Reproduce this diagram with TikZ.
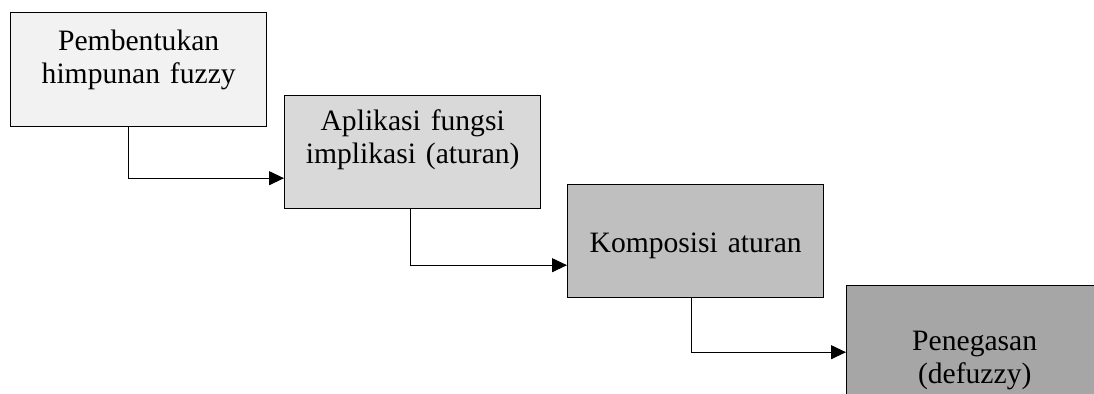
\documentclass[tikz,border=0pt]{standalone}
\usepackage{fontspec}
\setmainfont{Liberation Serif}
\usepackage{xcolor}
\usetikzlibrary{arrows.meta,positioning}
\definecolor{shadeA}{HTML}{F2F2F2}
\definecolor{shadeB}{HTML}{D9D9D9}
\definecolor{shadeC}{HTML}{BFBFBF}
\definecolor{shadeD}{HTML}{A6A6A6}
\begin{document}
\begin{tikzpicture}[stage/.style={draw,line width=0.7pt,text width=128pt,align=center,inner sep=0pt,anchor=north west,font=\fontsize{14.8}{16.5}\selectfont},
    flow/.style={-{Triangle[length=7.5pt,width=7pt]},line width=0.6pt}]
       \useasboundingbox (0pt,0pt) rectangle (547pt,-197pt);
       \node[stage,fill=shadeA,text height=19pt,text depth=38pt] (P) at (5pt,-6pt) {Pembentukan\\himpunan fuzzy};
       \node[stage,fill=shadeB,text height=17.5pt,text depth=39pt] (A) at (142pt,-47.5pt) {Aplikasi fungsi\\implikasi (aturan)};
       \node[stage,fill=shadeC,text height=34pt,text depth=22.5pt] (K) at (283.5pt,-92pt) {Komposisi aturan};
       \node[stage,fill=shadeD,text height=32.5pt,text depth=24pt] (D) at (423pt,-142.5pt) {Penegasan\\(defuzzy)};
        \draw[flow] ([xshift=-5pt]P.south) |- ([yshift=-13pt]A.west);
        \draw[flow] ([xshift=-1pt]A.south) |- ([yshift=-12pt]K.west);
        \draw[flow] ([xshift=-2pt]K.south) |- ([yshift=-5pt]D.west);
    \end{tikzpicture}
\end{document}
